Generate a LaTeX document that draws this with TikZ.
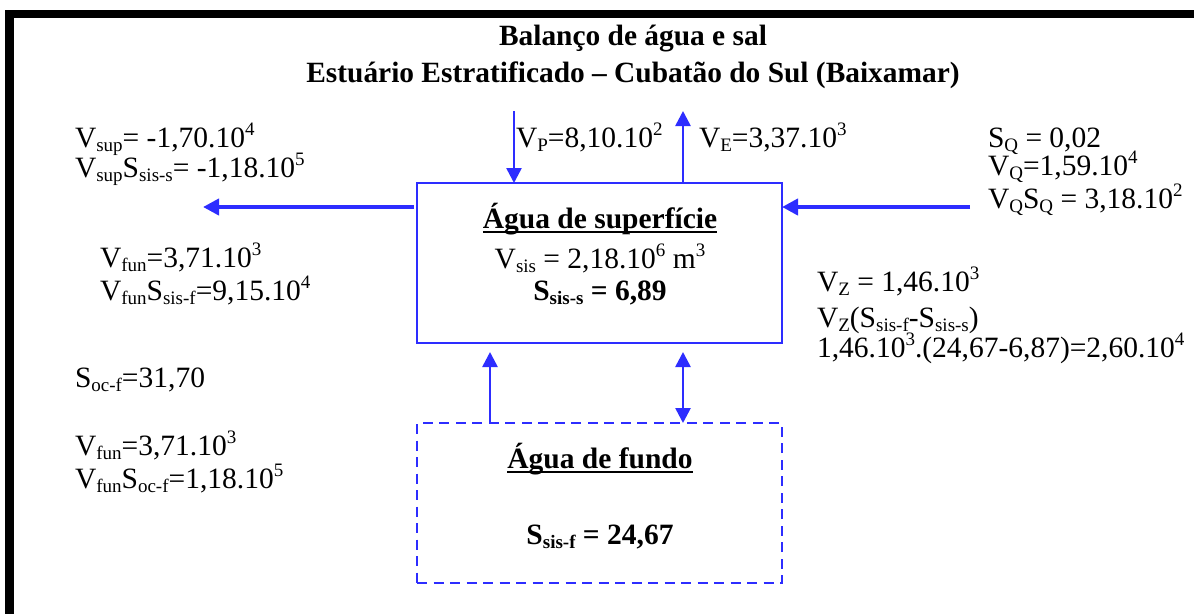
\documentclass[tikz,border=0pt]{standalone}
\usepackage{fontspec}
\setmainfont{Liberation Serif}
\usetikzlibrary{arrows.meta}
\definecolor{myblue}{RGB}{45,45,255}
\newcommand\sbs[1]{\raisebox{-0.14em}{\fontsize{19}{19}\selectfont #1}}
\newcommand\sps[1]{\raisebox{0.38em}{\fontsize{19}{19}\selectfont #1}}
\newcommand\ulin[1]{\setbox0\hbox{#1}\rlap{\rule[-4.5pt]{\wd0}{2pt}}\box0}
\tikzset{
  txt/.style={inner sep=0pt, outer sep=0pt, anchor=base west, font=\fontsize{29.5}{33}\selectfont},
  ctxt/.style={inner sep=0pt, outer sep=0pt, anchor=base, font=\fontsize{29.5}{33}\selectfont},
  btxt/.style={inner sep=0pt, outer sep=0pt, anchor=base, font=\fontsize{29.5}{33}\selectfont\bfseries},
  ttl/.style={inner sep=0pt, outer sep=0pt, anchor=base, font=\fontsize{29.4}{33}\selectfont\bfseries},
  sbox/.style={draw=myblue, line width=2pt, minimum width=365pt, minimum height=160pt, inner sep=0pt, outer sep=0pt},
  fbox/.style={sbox, dash pattern=on 10pt off 6.5pt},
  arr/.style={draw=myblue, line width=2.6pt, -{Triangle[length=15pt,width=15pt]}},
  darr/.style={draw=myblue, line width=2.6pt, {Triangle[length=15pt,width=15pt]}-{Triangle[length=15pt,width=15pt]}},
  harr/.style={draw=myblue, line width=4.8pt, -{Triangle[length=16pt,width=16pt]}}
}
\begin{document}
\begin{tikzpicture}[x=1pt,y=-1pt]
\useasboundingbox (0,0) rectangle (1194,614);
% frame
\fill[black] (5,10) rectangle (1194,18);
\fill[black] (5,10) rectangle (14,614);
% title
\node[ttl] (t1) at (633,45) {Balanço de água e sal};
\node[ttl] (t2) at (633,82) {Estuário Estratificado – Cubatão do Sul (Baixamar)};
% boxes
\node[sbox] (sup) at (599.5,263) {};
\node[fbox] (fun) at (599.5,503) {};
% box texts
\node[btxt] (supT) at (600,228) {\ulin{Água de superfície}};
\node[ctxt] (vsis) at (600,268) {V\sbs{sis} = 2,18.10\sps{6} m\sps{3}};
\node[btxt] (ssis) at (600,300) {S\sbs{sis-s} = 6,89};
\node[btxt] (funT) at (600,468) {\ulin{Água de fundo}};
\node[btxt] (ssf) at (600,544) {S\sbs{sis-f} = 24,67};
% arrows
\coordinate (vp) at (514,111);
\coordinate (ve) at (683,111);
\coordinate (outL) at (203,207);
\coordinate (qin) at (970,207);
\coordinate (c1) at (490,0);
\coordinate (c2) at (683,0);
\draw[arr] (vp) -- (vp |- sup.north);
\draw[arr] (ve |- sup.north) -- (ve);
\draw[harr] ([xshift=-3pt]sup.west |- outL) -- (outL);
\draw[harr] (qin) -- (sup.east |- qin);
\draw[arr] (c1 |- fun.north) -- ([yshift=-9pt]c1 |- sup.south);
\draw[darr] (c2 |- fun.north) -- ([yshift=-9pt]c2 |- sup.south);
% labels
\node[txt] (lvp) at (516,147) {V\sbs{P}=8,10.10\sps{2}};
\node[txt] (lve) at (699,147) {V\sbs{E}=3,37.10\sps{3}};
\node[txt] (l1) at (75,147) {V\sbs{sup}= -1,70.10\sps{4}};
\node[txt] (l2) at (75,177) {V\sbs{sup}S\sbs{sis-s}= -1,18.10\sps{5}};
\node[txt] (l3) at (100,267) {V\sbs{fun}=3,71.10\sps{3}};
\node[txt] (l4) at (100,300) {V\sbs{fun}S\sbs{sis-f}=9,15.10\sps{4}};
\node[txt] (l5) at (75,387) {S\sbs{oc-f}=31,70};
\node[txt] (l6) at (75,455) {V\sbs{fun}=3,71.10\sps{3}};
\node[txt] (l7) at (75,488) {V\sbs{fun}S\sbs{oc-f}=1,18.10\sps{5}};
\node[txt] (r1) at (988,147) {S\sbs{Q} = 0,02};
\node[txt] (r2) at (988,175) {V\sbs{Q}=1,59.10\sps{4}};
\node[txt] (r3) at (988,208) {V\sbs{Q}S\sbs{Q} = 3,18.10\sps{2}};
\node[txt] (z1) at (817,291) {V\sbs{Z} = 1,46.10\sps{3}};
\node[txt] (z2) at (817,327) {V\sbs{Z}(S\sbs{sis-f}-S\sbs{sis-s})};
\node[txt] (z3) at (817,357) {1,46.10\sps{3}.(24,67-6,87)=2,60.10\sps{4}};
\end{tikzpicture}
\end{document}
